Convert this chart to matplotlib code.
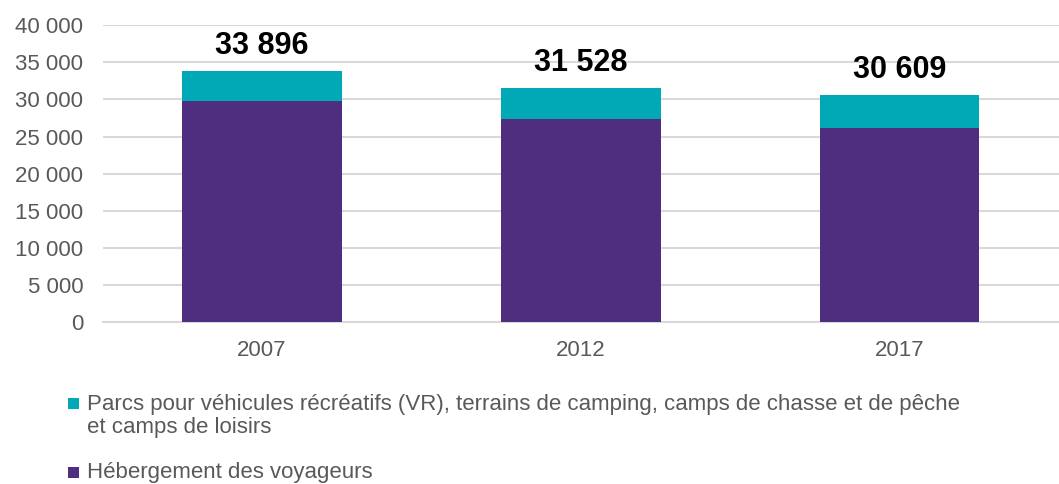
import matplotlib.pyplot as plt
from matplotlib.patches import Rectangle
from matplotlib.ticker import FuncFormatter

years = ["2007", "2012", "2017"]
totals = [33896, 31528, 30609]
hebergement = [29800, 27400, 26200]
parcs = [t - h for t, h in zip(totals, hebergement)]

lab_parcs = ["Parcs pour véhicules récréatifs (VR), terrains de camping, camps de chasse et de pêche",
             "et camps de loisirs"]
lab_heb = "Hébergement des voyageurs"

purple = "#4f2d7f"
teal = "#00a9b5"
grey = "#595959"

plt.rcParams['font.family'] = ['Liberation Sans', 'DejaVu Sans']

W, H = 1059, 484
fig = plt.figure(figsize=(W / 100, H / 100), dpi=100)
ax = fig.add_axes([0.097, 0.334, 0.903, 0.614])

x = range(len(years))
ax.bar(x, hebergement, width=0.5, color=purple, zorder=3)
ax.bar(x, parcs, width=0.5, bottom=hebergement, color=teal, zorder=3)

for i, t in enumerate(totals):
    s = f"{t:,}".replace(",", " ")
    ax.annotate(s, (i, t), xytext=(0, 7), textcoords="offset points",
                ha="center", va="bottom", fontsize=22, fontweight="bold", color="black")

ax.set_xlim(-0.5, 2.5)
ax.set_ylim(0, 40000)
ax.set_yticks(range(0, 40001, 5000))
ax.yaxis.set_major_formatter(FuncFormatter(lambda v, p: f"{int(v):,}".replace(",", " ")))
ax.set_xticks(list(x))
ax.set_xticklabels(years)
ax.tick_params(axis="both", length=0, labelcolor=grey, labelsize=16)
ax.tick_params(axis="x", pad=13)
ax.tick_params(axis="y", pad=14)

ax.grid(axis="y", color="#d9d9d9", linewidth=1.5, zorder=0)
for sp in ["top", "right", "left"]:
    ax.spines[sp].set_visible(False)
ax.spines["bottom"].set_color("#d9d9d9")
ax.spines["bottom"].set_linewidth(1.5)

# legend drawn by hand so the marker sits on the first line
def fx(px):
    return px / W

def fy(px):
    return 1 - px / H

for col, top in [(teal, 398), (purple, 467)]:
    fig.add_artist(Rectangle((fx(68), fy(top + 11)), fx(11), 11 / H,
                             transform=fig.transFigure, color=col, lw=0))

fig.text(fx(87), fy(410), lab_parcs[0], fontsize=16, color=grey, va="baseline")
fig.text(fx(87), fy(433), lab_parcs[1], fontsize=16, color=grey, va="baseline")
fig.text(fx(87), fy(478), lab_heb, fontsize=16, color=grey, va="baseline")

fig.savefig("out.png", dpi=100)
